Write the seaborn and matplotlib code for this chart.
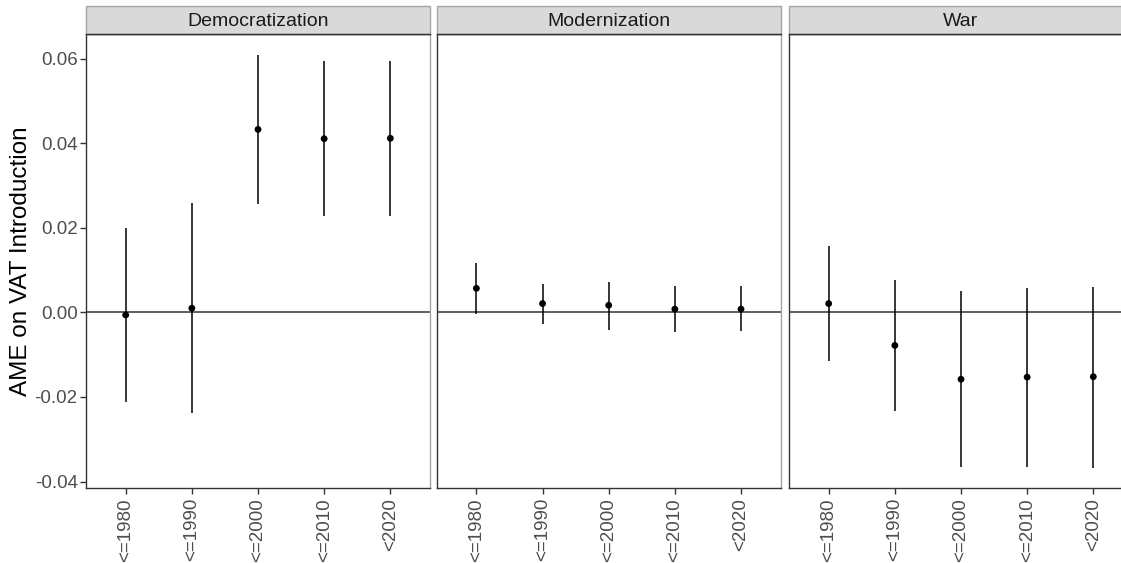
import matplotlib
matplotlib.use("Agg")
import matplotlib.pyplot as plt
from matplotlib.patches import Rectangle
import seaborn as sns
import pandas as pd

sns.set_theme(style="white")
plt.rcParams["font.family"] = ["Liberation Sans", "DejaVu Sans"]

# Average marginal effects with 95% intervals by period cutoff
periods = ["<=1980", "<=1990", "<=2000", "<=2010", "<2020"]
panels = ["Democratization", "Modernization", "War"]

demo_est = [-0.0006, 0.0010, 0.0433, 0.0411, 0.0412]
demo_lo = [-0.0213, -0.0238, 0.0257, 0.0227, 0.0227]
demo_hi = [0.0200, 0.0259, 0.0610, 0.0594, 0.0596]

mod_est = [0.0057, 0.0021, 0.0017, 0.0008, 0.0008]
mod_lo = [-0.0004, -0.0027, -0.0041, -0.0047, -0.0045]
mod_hi = [0.0118, 0.0068, 0.0073, 0.0063, 0.0063]

war_est = [0.0021, -0.0078, -0.0158, -0.0153, -0.0152]
war_lo = [-0.0115, -0.0233, -0.0366, -0.0365, -0.0367]
war_hi = [0.0157, 0.0076, 0.0051, 0.0058, 0.0061]

yticks = [-0.04, -0.02, 0.00, 0.02, 0.04, 0.06]
ytick_labels = ["-0.04", "-0.02", "0.00", "0.02", "0.04", "0.06"]

frames = []
for name, est, lo, hi in [
    ("Democratization", demo_est, demo_lo, demo_hi),
    ("Modernization", mod_est, mod_lo, mod_hi),
    ("War", war_est, war_lo, war_hi),
]:
    frames.append(pd.DataFrame({"panel": name, "period": periods,
                                "est": est, "lo": lo, "hi": hi}))
df = pd.concat(frames, ignore_index=True)

W, H = 1121, 563
fig = plt.figure(figsize=(W / 100, H / 100), dpi=100)

panel_w = 344
panel_lefts = [86, 436.7, 789]
top_px, bot_px = 34.3, 488.3
strip_h = 28.6

dark = "#333333"
light = "#a6a6a6"
tick_col = "#4d4d4d"

axes = []
for i, (name, left) in enumerate(zip(panels, panel_lefts)):
    ax = fig.add_axes([left / W, (H - bot_px) / H, panel_w / W, (bot_px - top_px) / H])
    axes.append(ax)
    sub = df[df["panel"] == name]
    ax.axhline(0, color=dark, lw=1.1, zorder=1)
    ax.vlines(sub["period"], sub["lo"], sub["hi"], color="black", lw=1.1, zorder=2)
    sns.scatterplot(data=sub, x="period", y="est", ax=ax, color="black",
                    s=24, edgecolor="none", zorder=3, legend=False)
    ax.set_xlim(-0.6, 4.6)
    ax.set_ylim(-0.0416, 0.0658)
    ax.set_xlabel("")
    ax.set_ylabel("")
    ax.set_xticks(range(len(periods)))
    ax.set_xticklabels(periods, rotation=90, color=tick_col, fontsize=13.5)
    ax.tick_params(axis="x", length=4, width=1, color=dark, pad=3, bottom=True)
    ax.set_yticks(yticks)
    if i == 0:
        ax.set_yticklabels(ytick_labels, color=tick_col, fontsize=13.5)
        ax.tick_params(axis="y", length=4, width=1, color=dark, pad=2, left=True)
        ax.set_ylabel("AME on VAT Introduction", fontsize=17.5, color="black", labelpad=2)
    else:
        ax.tick_params(axis="y", left=False, labelleft=False)
    for side in ["left", "bottom", "top"]:
        ax.spines[side].set_color(dark)
        ax.spines[side].set_linewidth(1.0)
    ax.spines["right"].set_color(light)
    ax.spines["right"].set_linewidth(1.0)
    ax.grid(False)

    # facet strip
    sh = strip_h / (bot_px - top_px)
    ax.add_patch(Rectangle((0, 1), 1, sh, transform=ax.transAxes, facecolor="#d9d9d9",
                           edgecolor=light, lw=1.0, clip_on=False, zorder=5))
    ax.plot([0, 1], [1, 1], transform=ax.transAxes, color=dark, lw=1.0,
            clip_on=False, zorder=6)
    ax.text(0.5, 1 + sh / 2 - 1.5 / (bot_px - top_px), name, transform=ax.transAxes,
            ha="center", va="center", fontsize=14, color="#1a1a1a", zorder=7)

fig.savefig("out.png", dpi=100)
